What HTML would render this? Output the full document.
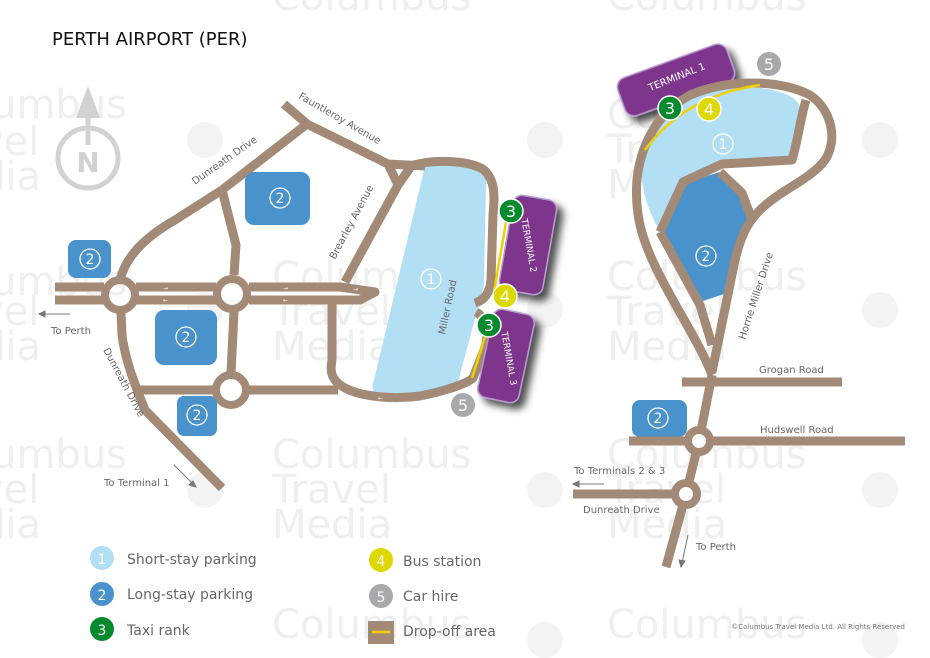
<!DOCTYPE html>
<html><head><meta charset="utf-8"><style>
html,body{margin:0;padding:0;background:#fff}
svg{display:block}
text{font-family:"DejaVu Sans","Liberation Sans",sans-serif}
</style></head><body>
<svg width="930" height="658" viewBox="0 0 930 658" xmlns="http://www.w3.org/2000/svg">
<defs>
<filter id="sh" x="-30%" y="-30%" width="160%" height="160%"><feGaussianBlur in="SourceAlpha" stdDeviation="4"/><feOffset dx="6" dy="6"/><feComponentTransfer><feFuncA type="linear" slope="0.7"/></feComponentTransfer><feMerge><feMergeNode/><feMergeNode in="SourceGraphic"/></feMerge></filter>
</defs>
<rect width="930" height="658" fill="#fff"/>
<g fill="#efefef" font-size="40">
<text x="-20" y="118">lumbus</text><text x="-20" y="155">vel</text><text x="-20" y="190">dia</text>
<text x="272" y="290">Columbus</text><text x="272" y="325">Travel</text><text x="272" y="360">Media</text>
<text x="-20" y="295">lumbus</text><text x="-20" y="325">vel</text><text x="-20" y="360">dia</text>
<text x="272" y="468">Columbus</text><text x="272" y="503">Travel</text><text x="272" y="538">Media</text>
<text x="-20" y="468">lumbus</text><text x="-20" y="503">vel</text><text x="-20" y="538">dia</text>
<text x="607" y="128">Columbus</text><text x="607" y="163">Travel</text><text x="607" y="198">Media</text>
<text x="607" y="290">Columbus</text><text x="607" y="325">Travel</text><text x="607" y="360">Media</text>
<text x="607" y="468">Columbus</text><text x="607" y="503">Travel</text><text x="607" y="538">Media</text>
<text x="607" y="638">Columbus</text><text x="272" y="638">Columbus</text>
<text x="272" y="10">Columbus</text><text x="607" y="10">Columbus</text>
</g>
<g fill="#f3f3f3">
<circle cx="205" cy="140" r="18"/><circle cx="545" cy="140" r="18"/><circle cx="880" cy="140" r="18"/>
<circle cx="205" cy="310" r="18"/><circle cx="545" cy="310" r="18"/><circle cx="880" cy="310" r="18"/>
<circle cx="205" cy="490" r="18"/><circle cx="545" cy="490" r="18"/><circle cx="880" cy="490" r="18"/>
<circle cx="545" cy="640" r="18"/><circle cx="880" cy="640" r="18"/>
</g>

<text x="52" y="45" font-size="18" fill="#111">PERTH AIRPORT (PER)</text>

<g fill="none" stroke="#d2d2d2" stroke-width="5">
<circle cx="88" cy="158" r="30"/>
<line x1="88" y1="115" x2="88" y2="145"/>
</g>
<polygon points="88,86 76,118 100,118" fill="#d2d2d2"/>
<text x="88" y="172" font-size="28" font-weight="bold" fill="#d2d2d2" text-anchor="middle">N</text>

<!-- LEFT MAP -->
<path d="M425,166 C450,160 478,163 486,180 L484,285 L458,382 C440,392 400,398 375,396 C372,390 372,385 374,380 Z" fill="#b3dff5"/>
<g fill="none" stroke="#a38a76" stroke-width="9" stroke-linecap="butt" stroke-linejoin="round">
<path d="M284,104 L307,124 L388,164 L425,166"/>
<path d="M307,124 L222,190 L175,220 C140,240 125,260 120,280"/>
<path d="M222,190 L236,245 L234,275"/>
<path d="M234,312 L231,373"/>
<path d="M388,164 L398,185 L410,168"/>
<path d="M398,185 L345,282"/>
<path d="M405,168 C430,158 470,160 484,170 C495,180 495,195 493,215 L491,280 C490,292 485,300 475,303"/>
<path d="M476,312 C490,320 488,340 484,350 L473,378 C465,385 440,392 420,396 C390,400 360,396 345,388 C330,380 330,370 332,360 L332,302"/>
<path d="M338,390 L248,390"/>
<path d="M214,390 L140,390"/>
<path d="M121,313 L122,335 C125,360 135,385 145,410 L222,488"/>
<path d="M55,287 L104,287 M136,287 L216,287 M249,287 L340,287 L375,292 L360,300 L249,300 M216,300 L136,300 M104,300 L55,300"/>
</g>
<g fill="none" stroke="#a38a76" stroke-width="8">
<circle cx="120" cy="295" r="15"/><circle cx="232" cy="294" r="15"/><circle cx="231" cy="390" r="15"/>
</g>
<g fill="#fff" font-size="6"><text x="163" y="290">→</text><text x="163" y="302">←</text><text x="283" y="290">→</text><text x="283" y="302">←</text><text x="353" y="291">→</text><text x="378" y="400">←</text></g>
<path d="M506,222 L494,292" stroke="#f0d000" stroke-width="2.5" fill="none"/>
<path d="M486,334 L472,378" stroke="#f0d000" stroke-width="2.5" fill="none"/>
<g filter="url(#sh)">
<rect x="-22" y="-48" width="44" height="96" rx="9" fill="#7e358c" stroke="#b59ad0" stroke-width="1.5" transform="translate(528,245) rotate(10)"/>
<rect x="-21" y="-45" width="42" height="90" rx="9" fill="#7e358c" stroke="#b59ad0" stroke-width="1.5" transform="translate(506,356) rotate(12)"/>
<rect x="-58" y="-20" width="116" height="40" rx="10" fill="#7e358c" stroke="#b59ad0" stroke-width="1.5" transform="translate(676,80) rotate(-20)"/>
</g>
<text transform="translate(526,246) rotate(80)" font-size="9" fill="#fff" text-anchor="middle">TERMINAL 2</text>
<text transform="translate(506,359) rotate(80)" font-size="9" fill="#fff" text-anchor="middle">TERMINAL 3</text>
<text transform="translate(678,80) rotate(-22)" font-size="10" fill="#fff" text-anchor="middle">TERMINAL 1</text>
<g fill="#4a92cb">
<rect x="245" y="172" width="65" height="53" rx="9"/>
<rect x="68" y="240" width="43" height="38" rx="8"/>
<rect x="155" y="310" width="62" height="55" rx="9"/>
<rect x="177" y="396" width="40" height="40" rx="7"/>
</g>

<!-- RIGHT MAP -->
<path d="M648,132 C670,100 720,85 760,88 C790,92 800,100 800,110 L792,160 L722,163 L683,182 L660,232 C648,210 641,190 642,170 Z" fill="#b3dff5"/>
<path d="M683,183 L720,172 L742,193 L752,220 L727,293 L697,303 L660,235 Z" fill="#4a92cb"/>
<rect x="632" y="400" width="55" height="37" rx="8" fill="#4a92cb"/>
<g fill="none" stroke="#a38a76" stroke-width="9" stroke-linejoin="round">
<path d="M712,375 C695,330 648,270 639,220 C630,170 645,120 690,95 C730,78 780,80 810,95 C832,110 838,140 825,160 C810,180 780,190 760,210 C745,225 740,240 735,260 L712,372"/>
<path d="M806,100 C800,120 798,140 792,160 L722,164 L683,182 L660,232"/>
<path d="M720,172 L742,193 L752,220"/>
<path d="M660,232 L700,305 L712,345"/>
<path d="M712,375 L699,441 L686,494 L666,567"/>
<path d="M682,382 L842,382"/>
<path d="M629,441 L905,441"/>
<path d="M573,494 L686,494"/>
</g>
<g fill="#fff" stroke="#a38a76" stroke-width="8"><circle cx="699" cy="441" r="11"/><circle cx="686" cy="494" r="11"/></g>
<path d="M645,150 C670,115 710,92 760,85" stroke="#f0d000" stroke-width="2.5" fill="none"/>

<g fill="none" stroke="#fff" stroke-width="1.3">
<circle cx="280" cy="198" r="10"/><circle cx="90" cy="259" r="10"/><circle cx="186" cy="337" r="10"/><circle cx="197" cy="415" r="10"/><circle cx="431" cy="279" r="10"/>
<circle cx="723" cy="144" r="10"/><circle cx="706" cy="256" r="10"/><circle cx="658" cy="418" r="10"/>
</g>
<g fill="#fff" font-size="14" text-anchor="middle">
<text x="280" y="203">2</text><text x="90" y="264">2</text><text x="186" y="342">2</text><text x="197" y="420">2</text><text x="431" y="284">1</text>
<text x="723" y="149">1</text><text x="706" y="261">2</text><text x="658" y="423">2</text>
</g>

<g>
<circle cx="511" cy="211" r="12" fill="#058a2e" stroke="#fff" stroke-width="1.5"/>
<circle cx="489" cy="325" r="12" fill="#058a2e" stroke="#fff" stroke-width="1.5"/>
<circle cx="505" cy="296" r="12" fill="#dcd800" stroke="#fff" stroke-width="1.5"/>
<circle cx="463" cy="405" r="12" fill="#a7a9ac"/>
<circle cx="670" cy="108" r="12" fill="#058a2e" stroke="#fff" stroke-width="1.5"/>
<circle cx="709" cy="109" r="12" fill="#dcd800" stroke="#fff" stroke-width="1.5"/>
<circle cx="769" cy="64" r="12" fill="#a7a9ac"/>
</g>
<g fill="#fff" font-size="16" text-anchor="middle">
<text x="511" y="217">3</text><text x="489" y="331">3</text><text x="505" y="302">4</text><text x="463" y="411">5</text>
<text x="670" y="114">3</text><text x="709" y="115">4</text><text x="769" y="70">5</text>
</g>

<g fill="#666" font-size="10">
<text transform="translate(298,98) rotate(30)">Fauntleroy Avenue</text>
<text transform="translate(195,185) rotate(-35)">Dunreath Drive</text>
<text transform="translate(335,260) rotate(-62)">Brearley Avenue</text>
<text transform="translate(445,335) rotate(-78)">Miller Road</text>
<text transform="translate(103,350) rotate(62)">Dunreath Drive</text>
<text x="51" y="334">To Perth</text>
<text x="104" y="486">To Terminal 1</text>
<text transform="translate(745,340) rotate(-72)">Horrie Miller Drive</text>
<text x="759" y="373">Grogan Road</text>
<text x="760" y="433">Hudswell Road</text>
<text x="574" y="474">To Terminals 2 &amp; 3</text>
<text x="583" y="513">Dunreath Drive</text>
<text x="696" y="550">To Perth</text>
</g>
<g stroke="#777" stroke-width="1" fill="#777">
<line x1="42" y1="314" x2="70" y2="314"/><polygon points="39,314 45,311 45,317"/>
<line x1="174" y1="465" x2="193" y2="484"/><polygon points="196,487 189,485 193,481"/>
<line x1="576" y1="484" x2="604" y2="484"/><polygon points="573,484 579,481 579,487"/>
<line x1="688" y1="535" x2="682" y2="563"/><polygon points="681,567 679,560 685,561"/>
</g>

<g font-size="14" fill="#666">
<circle cx="102" cy="558" r="12" fill="#b3dff5"/><text x="102" y="564" fill="#fff" text-anchor="middle">1</text><text x="127" y="564">Short-stay parking</text>
<circle cx="102" cy="594" r="12" fill="#4a92cb"/><text x="102" y="600" fill="#fff" text-anchor="middle">2</text><text x="127" y="599">Long-stay parking</text>
<circle cx="102" cy="629" r="12" fill="#058a2e"/><text x="102" y="635" fill="#fff" text-anchor="middle">3</text><text x="127" y="635">Taxi rank</text>
<circle cx="381" cy="560" r="12" fill="#dcd800"/><text x="381" y="566" fill="#fff" text-anchor="middle">4</text><text x="403" y="566">Bus station</text>
<circle cx="381" cy="596" r="12" fill="#a7a9ac"/><text x="381" y="602" fill="#fff" text-anchor="middle">5</text><text x="403" y="601">Car hire</text>
<rect x="368" y="621" width="26" height="23" fill="#a38a76"/><line x1="372" y1="632" x2="390" y2="632" stroke="#f0d000" stroke-width="2.5"/><text x="403" y="636">Drop-off area</text>
</g>
<text x="905" y="629" font-size="7" fill="#777" text-anchor="end">©Columbus Travel Media Ltd. All Rights Reserved</text>
</svg>
</body></html>
